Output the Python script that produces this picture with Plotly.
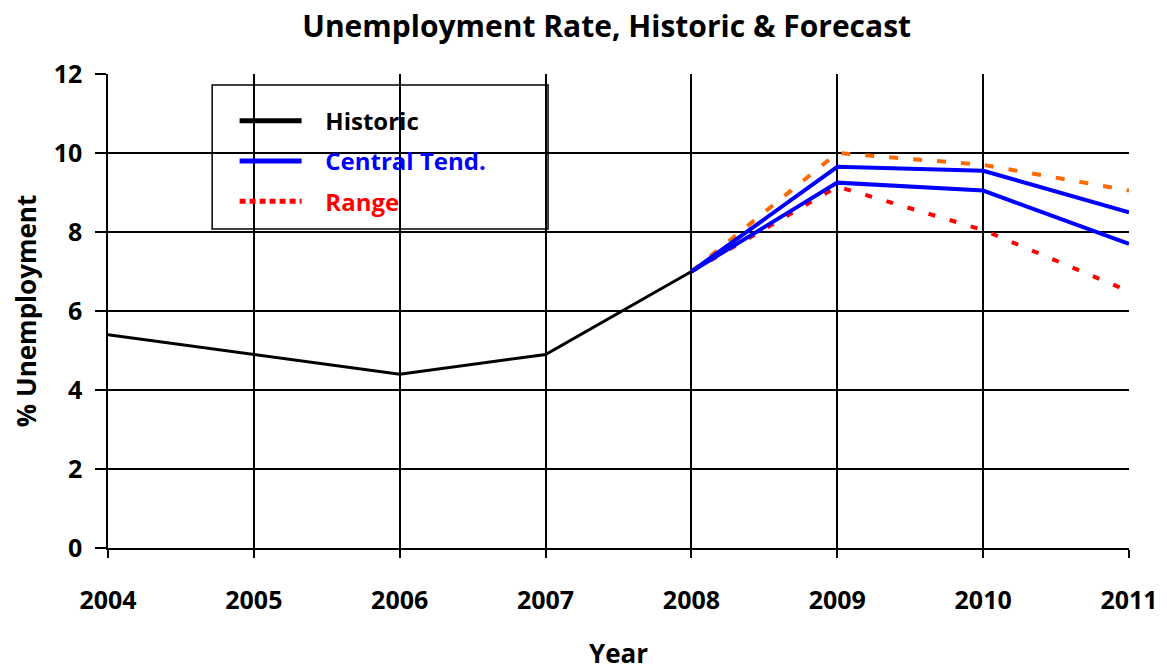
import plotly.graph_objects as go

years = [2004, 2005, 2006, 2007, 2008, 2009, 2010, 2011]
hist_years = [2004, 2005, 2006, 2007, 2008]
historic = [5.4, 4.9, 4.4, 4.9, 7.0]

fc_years = [2008, 2009, 2010, 2011]
central_high = [7.0, 9.65, 9.55, 8.5]
central_low = [7.0, 9.25, 9.05, 7.7]
range_high = [7.0, 10.0, 9.7, 9.05]
range_low = [7.0, 9.15, 8.05, 6.5]

y_ticks = [0, 2, 4, 6, 8, 10, 12]

font = "Open Sans"
pad = "&nbsp;&nbsp;&nbsp;"

fig = go.Figure()

fig.add_trace(go.Scatter(
    x=fc_years, y=range_high, mode="lines",
    line=dict(color="#FF6A00", width=4, dash="9px,15px"),
    showlegend=False
))
fig.add_trace(go.Scatter(
    x=fc_years, y=range_low, mode="lines",
    line=dict(color="#FF0000", width=4, dash="7px,15px"),
    showlegend=False
))
fig.add_trace(go.Scatter(
    x=fc_years, y=central_high, mode="lines",
    line=dict(color="#0000FF", width=4),
    showlegend=False
))
fig.add_trace(go.Scatter(
    x=fc_years, y=central_low, mode="lines",
    line=dict(color="#0000FF", width=4),
    showlegend=False
))
fig.add_trace(go.Scatter(
    x=hist_years, y=historic, mode="lines",
    line=dict(color="black", width=3),
    showlegend=False
))

# legend-only entries (thicker samples like the original)
fig.add_trace(go.Scatter(
    x=[None], y=[None], mode="lines",
    line=dict(color="black", width=5),
    name=pad + "Historic", legendgroup="a", legendrank=1
))
fig.add_trace(go.Scatter(
    x=[None], y=[None], mode="lines",
    line=dict(color="#0000FF", width=5),
    name=pad + "<span style='color:#0000FF'>Central Tend.</span>",
    legendgroup="b", legendrank=2
))
fig.add_trace(go.Scatter(
    x=[None], y=[None], mode="lines",
    line=dict(color="#FF0000", width=5, dash="6px,4px"),
    name=pad + "<span style='color:#FF0000'>Range</span>",
    legendgroup="c", legendrank=3
))

# legend frame (page has an 8px offset, margins compensate)
fig.add_shape(type="rect", xref="paper", yref="paper",
              x0=0.102, x1=0.431, y0=0.673, y1=0.977,
              line=dict(color="black", width=1.5), fillcolor="white",
              layer="between")

fig.update_layout(
    width=1167, height=671,
    margin=dict(l=100, r=46, t=66, b=131),
    paper_bgcolor="white", plot_bgcolor="white",
    font=dict(family=font, size=20, color="black"),
    title=dict(text="<b>Unemployment Rate, Historic & Forecast</b>",
               x=0.513, xanchor="center", y=0.973, yanchor="middle",
               font=dict(size=30)),
    legend=dict(
        x=0.124, y=0.948, xanchor="left", yanchor="top",
        bgcolor="rgba(0,0,0,0)", borderwidth=0,
        font=dict(size=24, color="black", weight="bold"),
        traceorder="grouped", tracegroupgap=6,
        itemwidth=62
    ),
)

fig.update_xaxes(
    range=[2004, 2011], tickvals=years, ticktext=[f"<b>{y}</b>" for y in years],
    showgrid=True, gridcolor="black", gridwidth=1.5,
    showline=True, linecolor="black", linewidth=1.5,
    ticks="outside", ticklen=8, tickcolor="black", tickwidth=1.5,
    ticklabelstandoff=21, tickfont=dict(size=25),
    title=dict(text="<b>Year</b>", standoff=30, font=dict(size=26)),
    zeroline=False, automargin=False
)
fig.update_yaxes(
    range=[0, 12], tickvals=y_ticks,
    ticktext=[f"<b>{v}</b>" for v in y_ticks],
    showgrid=True, gridcolor="black", gridwidth=1.5,
    showline=True, linecolor="black", linewidth=1.5,
    ticks="outside", ticklen=11, tickcolor="black", tickwidth=1.5,
    ticklabelstandoff=8, tickfont=dict(size=25),
    title=dict(text="<b>% Unemployment</b>", standoff=29, font=dict(size=26)),
    zeroline=False, automargin=False
)

fig.write_html("out.html")
